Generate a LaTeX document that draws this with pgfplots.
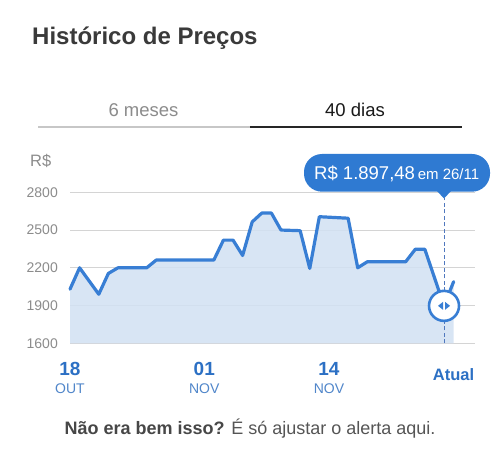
\documentclass[border=0pt]{standalone}
\usepackage{pgfplots}
\pgfplotsset{compat=1.18}
\usepackage{pgfplotstable}
\usepackage{fontspec}
\setmainfont{Liberation Sans}
\definecolor{lineblue}{RGB}{56,126,212}
\definecolor{areablue}{RGB}{210,225,243}
\definecolor{tipblue}{RGB}{47,122,210}
\definecolor{dashblue}{RGB}{80,120,190}
\definecolor{tickblue}{RGB}{44,112,196}
\definecolor{ticklight}{RGB}{80,134,202}
\definecolor{gridgray}{RGB}{212,212,212}
\definecolor{labelgray}{RGB}{140,140,140}
\definecolor{titlegray}{RGB}{58,58,58}
\definecolor{textgray}{RGB}{85,85,85}

\pgfplotstableread{
day price
0 2030
1 2200
3 1990
4 2155
5 2200
8 2200
9 2262
15 2262
16 2420
17 2420
18 2298
19 2565
20 2635
21 2635
22 2500
24 2495
25 2195
26 2606
29 2594
30 2200
31 2248
35 2248
36 2347
37 2347
39 1897.48
40 2090
}\pricedata

\pgfplotstableread{
day price
0 1600
0 2030
1 2200
3 1990
4 2155
5 2200
8 2200
9 2262
15 2262
16 2420
17 2420
18 2298
19 2565
20 2635
21 2635
22 2500
24 2495
25 2195
26 2606
29 2594
30 2200
31 2248
35 2248
36 2347
37 2347
39 1897.48
40 2090
40 1600
}\areadata

\pgfdeclareplotmark{knob}{%
  \pgfsetlinewidth{2.6pt}\pgfsetstrokecolor{lineblue}\pgfsetfillcolor{white}%
  \pgfpathcircle{\pgfpointorigin}{15pt}\pgfusepath{fill,stroke}%
  \pgfsetfillcolor{lineblue}%
  \pgfpathmoveto{\pgfpoint{-1pt}{4pt}}\pgfpathlineto{\pgfpoint{-6pt}{0pt}}\pgfpathlineto{\pgfpoint{-1pt}{-4pt}}\pgfpathclose
  \pgfpathmoveto{\pgfpoint{1pt}{4pt}}\pgfpathlineto{\pgfpoint{6pt}{0pt}}\pgfpathlineto{\pgfpoint{1pt}{-4pt}}\pgfpathclose
  \pgfusepath{fill}}

\newcommand\daylab[1]{{\fontsize{19}{19}\selectfont\bfseries\textcolor{tickblue}{#1}}}
\newcommand\monlab[1]{\raisebox{-18.3pt}{\fontsize{14}{14}\selectfont\textcolor{ticklight}{#1}}}
\newcommand\atual{\raisebox{-5pt}{\fontsize{16.5}{16.5}\selectfont\bfseries\textcolor{tickblue}{Atual}}}

\begin{document}
\begin{tikzpicture}
\fill[white] (0pt,0pt) rectangle (500pt,458pt);
\path[use as bounding box] (0pt,0pt) rectangle (500pt,458pt);
\node[anchor=base west, inner sep=0, font=\fontsize{24}{24}\selectfont\bfseries, text=titlegray] at (32pt,413pt) {Histórico de Preços};
\node[anchor=base, inner sep=0, font=\fontsize{18.5}{18.5}\selectfont, text=labelgray] at (143.5pt,341.3pt) {6 meses};
\node[anchor=base, inner sep=0, font=\fontsize{18.5}{18.5}\selectfont, text=black!90] at (355pt,341.3pt) {40 dias};
\draw[line width=1.5pt, black!22] (38pt,331pt) -- (250pt,331pt);
\draw[line width=2pt, black!85] (250pt,331pt) -- (462pt,331pt);
\node[anchor=base west, inner sep=0, font=\fontsize{16.5}{16.5}\selectfont, text=labelgray] at (30pt,291.3pt) {R\$};

\begin{axis}[
  at={(70pt,114.7pt)}, anchor=south west, scale only axis,
  width=405pt, height=151pt,
  xmin=0, xmax=42.23, ymin=1600, ymax=2800,
  clip=false,
  axis line style={draw=none},
  major tick length=0pt,
  ytick={1600,1900,2200,2500,2800},
  ymajorgrids, grid style={gridgray, line width=0.9pt},
  /pgf/number format/assume math mode=true,
  /pgf/number format/1000 sep={},
  yticklabel style={anchor=east, inner sep=0pt, xshift=-12pt, font=\fontsize{14}{14}\selectfont, text=labelgray},
  xtick={0,14,27,40},
  xticklabels={\daylab{18},\daylab{01},\daylab{14},\atual},
  extra x ticks={0,14,27},
  extra x tick labels={\monlab{OUT},\monlab{NOV},\monlab{NOV}},
  xticklabel style={anchor=base, inner sep=0pt, yshift=-31.7pt},
]
\addplot[fill=areablue, fill opacity=0.85, draw=none] table[x=day,y=price] {\areadata};
\addplot[lineblue, line width=3.2pt, line join=round, line cap=round] table[x=day,y=price] {\pricedata};
\addplot[dashblue, line width=1pt, dash pattern=on 4pt off 2.5pt] coordinates {(39,1600) (39,2755)};
\addplot[only marks, mark=knob] coordinates {(39,1897.48)};
\end{axis}

\fill[tipblue, rounded corners=18pt] (304pt,266.3pt) rectangle (490pt,304pt);
\fill[tipblue] (437pt,267pt) -- (451pt,267pt) -- (444pt,259.5pt) -- cycle;
\node[anchor=base west, inner sep=0, text=white] at (314pt,278.7pt) {{\fontsize{18.5}{18.5}\selectfont R\$ 1.897,48} {\fontsize{15}{15}\selectfont em 26/11}};

\node[anchor=base, inner sep=0, text=textgray, font=\fontsize{18}{18}\selectfont] at (250pt,23.7pt) {\textbf{\textcolor{black!72}{Não era bem isso?}} É só ajustar o alerta aqui.};
\end{tikzpicture}
\end{document}
